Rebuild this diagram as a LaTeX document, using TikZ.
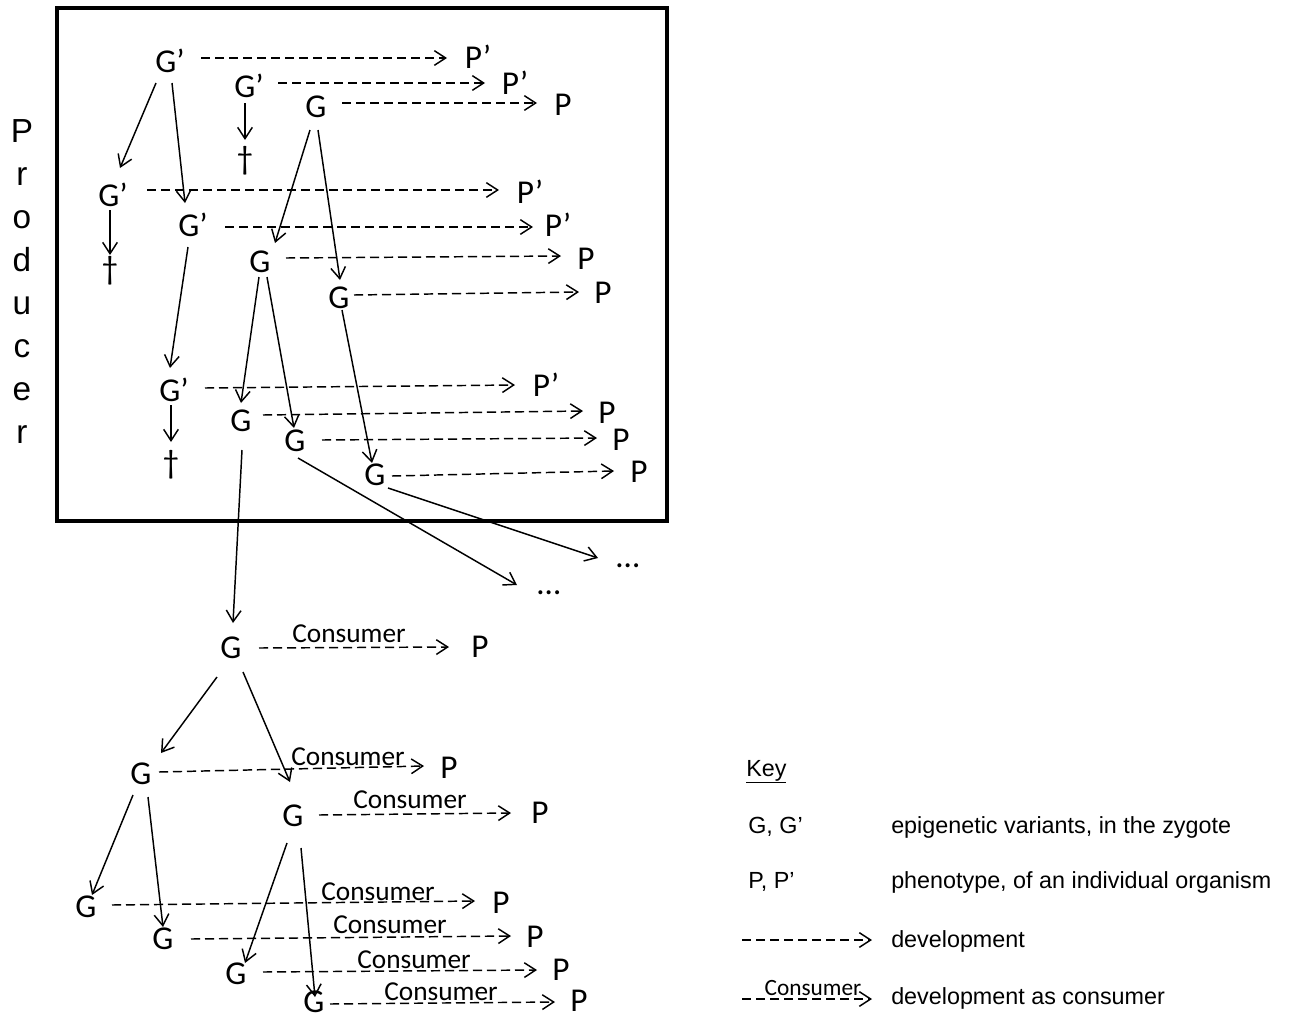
\documentclass[tikz,border=0pt]{standalone}
\usepackage{fontspec}
\setmainfont{Carlito}
\newfontfamily\arialf{Liberation Sans}
\usetikzlibrary{arrows.meta,calc}
\begin{document}
\begin{tikzpicture}[x=0.75pt,y=-0.75pt,
  gn/.style={inner sep=0pt, outer sep=0pt, font=\fontsize{25}{30}\selectfont},
  cons/.style={inner sep=0pt, font=\fontsize{20.5}{24}\selectfont},
  devline/.style={line width=1.1pt, dash pattern=on 6.8pt off 3.7pt, -{Straight Barb[length=8.5pt,width=11pt]}},
  descline/.style={line width=1.1pt, -{Straight Barb[length=8.5pt,width=11pt]}},
  keyt/.style={inner sep=0pt, anchor=base west, font=\arialf\fontsize{17.5}{21}\selectfont},
  prod/.style={inner sep=0pt, anchor=base, font=\arialf\fontsize{25}{30}\selectfont},
]
\useasboundingbox (0,0) rectangle (1293,1021);

% producer box
\draw[line width=3.2pt] (57,8) rectangle (667,521);

% Producer label
\node[prod] (pr1) at (22,142) {P};
\node[prod] (pr2) at (22,185) {r};
\node[prod] (pr3) at (22,228) {o};
\node[prod] (pr4) at (22,271) {d};
\node[prod] (pr5) at (22,314) {u};
\node[prod] (pr6) at (22,357) {c};
\node[prod] (pr7) at (22,400) {e};
\node[prod] (pr8) at (22,443) {r};

% nodes inside producer
\node[gn] (g1) at (170,61) {G’};
\node[gn] (pp1) at (478,57) {P’};
\node[gn] (g2) at (249,86) {G’};
\node[gn] (pp2) at (515,83) {P’};
\node[gn] (g3) at (316,107) {G};
\node[gn] (p3) at (563,105) {P};
\node[gn] (d2) at (245,161) {†};
\node[gn] (g5) at (113,195) {G’};
\node[gn] (pp5) at (530,192) {P’};
\node[gn] (d5) at (110,271) {†};
\node[gn] (g6) at (193,225) {G’};
\node[gn] (pp6) at (558,225) {P’};
\node[gn] (g7) at (260,262) {G};
\node[gn] (p7) at (586,259) {P};
\node[gn] (g8) at (339,298) {G};
\node[gn] (p8) at (603,293) {P};
\node[gn] (g10) at (174,390) {G’};
\node[gn] (pp10) at (546,385) {P’};
\node[gn] (d10) at (171,465) {†};
\node[gn] (g11) at (241,421) {G};
\node[gn] (p11) at (607,413) {P};
\node[gn] (g12) at (295,441) {G};
\node[gn] (p12) at (621,440) {P};
\node[gn] (g13) at (375,475) {G};
\node[gn] (p13) at (639,472) {P};
\node[gn] (dots12) at (549,593) {…};
\node[gn] (dots13) at (628,566) {…};

% consumer part
\node[gn] (g20) at (231,648) {G};
\node[gn] (p20) at (480,647) {P};
\node[gn] (g21) at (141,774) {G};
\node[gn] (p21) at (449,768) {P};
\node[gn] (g22) at (293,816) {G};
\node[gn] (p22) at (540,813) {P};
\node[gn] (g23) at (86,907) {G};
\node[gn] (p23) at (501,903) {P};
\node[gn] (g24) at (163,939) {G};
\node[gn] (p24) at (535,937) {P};
\node[gn] (g25) at (236,974) {G};
\node[gn] (p25) at (561,970) {P};
\node[gn] (g26) at (314,1002) {G};
\node[gn] (p26) at (579,1001) {P};

\node[cons] (c20) at (349,634) {Consumer};
\node[cons] (c21) at (348,757) {Consumer};
\node[cons] (c22) at (410,800) {Consumer};
\node[cons] (c23) at (378,892) {Consumer};
\node[cons] (c24) at (390,925) {Consumer};
\node[cons] (c25) at (414,960) {Consumer};
\node[cons] (c26) at (441,992) {Consumer};

% development (dashed)
\draw[devline] ($(g1)+(31,-3)$) -- ($(pp1)+(-31,1)$);
\draw[devline] ($(g2)+(29,-3)$) -- ($(pp2)+(-30,0)$);
\draw[devline] ($(g3)+(26,-4)$) -- ($(p3)+(-26,-2)$);
\draw[devline] ($(g5)+(34,-5)$) -- ($(pp5)+(-31,-2)$);
\draw[devline] ($(g6)+(32,2)$) -- ($(pp6)+(-25,2)$);
\draw[devline] ($(g7)+(26,-4)$) -- ($(p7)+(-25,-3)$);
\draw[devline] ($(g8)+(15,-3)$) -- ($(p8)+(-24,-1)$);
\draw[devline] ($(g10)+(31,-2)$) -- ($(pp10)+(-31,0)$);
\draw[devline] ($(g11)+(22,-6)$) -- ($(p11)+(-24,-2)$);
\draw[devline] ($(g12)+(27,-1)$) -- ($(p12)+(-24,-2)$);
\draw[devline] ($(g13)+(17,1)$) -- ($(p13)+(-25,-1)$);
\draw[devline] ($(g20)+(28,0)$) -- ($(p20)+(-31,0)$);
\draw[devline] ($(g21)+(18,-2)$) -- ($(p21)+(-25,-2)$);
\draw[devline] ($(g22)+(26,-1)$) -- ($(p22)+(-29,0)$);
\draw[devline] ($(g23)+(26,-2)$) -- ($(p23)+(-26,-2)$);
\draw[devline] ($(g24)+(28,0)$) -- ($(p24)+(-24,-1)$);
\draw[devline] ($(g25)+(27,-2)$) -- ($(p25)+(-24,0)$);
\draw[devline] ($(g26)+(16,2)$) -- ($(p26)+(-24,1)$);

% descent (solid)
\draw[descline] ($(g1)+(-14,22)$) -- ($(g5)+(7,-27)$);
\draw[descline] ($(g1)+(2,22)$) -- ($(g6)+(-8,-22)$);
\draw[descline] ($(g2)+(-4,17)$) -- ($(d2)+(0,-21)$);
\draw[descline] ($(g3)+(-6,23)$) -- ($(g7)+(15,-19)$);
\draw[descline] ($(g3)+(2,23)$) -- ($(g8)+(1,-18)$);
\draw[descline] ($(g5)+(-3,15)$) -- ($(d5)+(0,-16)$);
\draw[descline] ($(g6)+(-5,22)$) -- ($(g10)+(-4,-22)$);
\draw[descline] ($(g7)+(-1,15)$) -- ($(g11)+(0,-18)$);
\draw[descline] ($(g7)+(7,15)$) -- ($(g12)+(-1,-13)$);
\draw[descline] ($(g8)+(3,12)$) -- ($(g13)+(-3,-12)$);
\draw[descline] ($(g10)+(-3,15)$) -- ($(d10)+(0,-23)$);
\draw[descline] ($(g11)+(1,29)$) -- ($(g20)+(2,-25)$);
\draw[descline] ($(g12)+(3,17)$) -- ($(dots12)+(-32,-8)$);
\draw[descline] ($(g13)+(13,13)$) -- ($(dots13)+(-30,-8)$);
\draw[descline] ($(g20)+(-14,29)$) -- ($(g21)+(20,-21)$);
\draw[descline] ($(g20)+(12,24)$) -- ($(g22)+(-3,-34)$);
\draw[descline] ($(g21)+(-8,21)$) -- ($(g23)+(6,-12)$);
\draw[descline] ($(g21)+(7,23)$) -- ($(g24)+(0,-12)$);
\draw[descline] ($(g22)+(-6,27)$) -- ($(g25)+(9,-11)$);
\draw[descline] ($(g22)+(8,32)$) -- ($(g26)+(1,-5)$);

% key
\node[keyt] (kkey) at (746,776) {\underline{Key}};
\node[keyt] (kg) at (748,833) {G, G’};
\node[keyt] (kgt) at (891,833) {epigenetic variants, in the zygote};
\node[keyt] (kp) at (748,888) {P, P’};
\node[keyt] (kpt) at (891,888) {phenotype, of an individual organism};
\node[keyt] (kd) at (891,947) {development};
\node[keyt] (kc) at (891,1004) {development as consumer};
\coordinate (kd1) at (742,940);
\coordinate (kd2) at (872,940);
\coordinate (kc1) at (742,999);
\coordinate (kc2) at (872,999);
\draw[devline] (kd1) -- (kd2);
\draw[devline] (kc1) -- (kc2);
\node[inner sep=0pt, font=\fontsize{17.5}{21}\selectfont] (kcons) at (813,988) {Consumer};
\end{tikzpicture}
\end{document}
